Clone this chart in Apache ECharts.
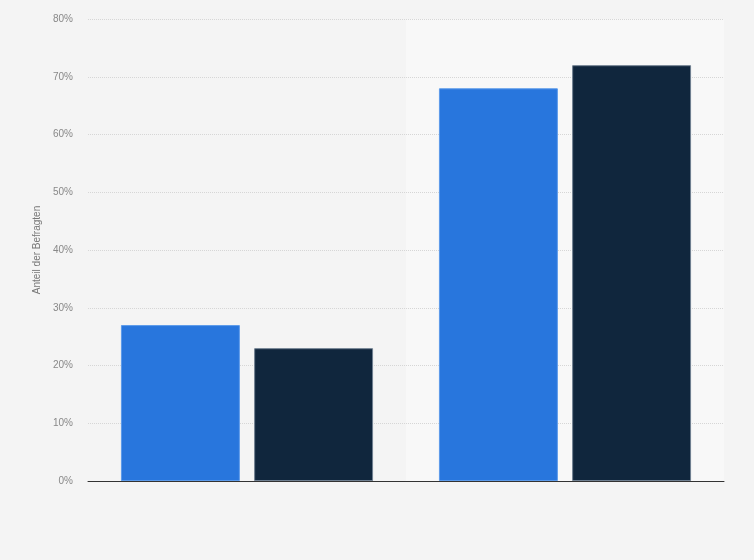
<!DOCTYPE html>
<html>
<head>
<meta charset="utf-8">
<script src="https://cdn.jsdelivr.net/npm/echarts@6/dist/echarts.min.js"></script>
<style>
  html, body { margin: 0; padding: 0; background: #f4f4f4; }
  #chart { width: 754px; height: 560px; }
</style>
</head>
<body>
<div id="chart"></div>
<script>
var categories = ["", ""];
var seriesA = [27, 68];
var seriesB = [23, 72];
var yTicks = [0, 10, 20, 30, 40, 50, 60, 70, 80];

(function () {
  var myChart = echarts.init(document.getElementById("chart"));

  var option = {
    backgroundColor: "#f4f4f4",
    animation: false,
    grid: {
      left: 88,
      right: 30,
      top: 19,
      bottom: 79,
      containLabel: false
    },
    xAxis: [
      {
        // nur für die helle Fläche hinter der zweiten Gruppe
        type: "category",
        data: categories,
        z: 1,
        axisTick: { show: false },
        axisLabel: { show: false },
        axisLine: { show: false },
        splitArea: {
          show: true,
          areaStyle: { color: ["rgba(0,0,0,0)", "#f8f8f8"] }
        }
      },
      {
        type: "category",
        data: categories,
        position: "bottom",
        z: 5,
        axisTick: { show: false },
        axisLabel: { show: false },
        axisLine: { onZero: false, lineStyle: { color: "#333", width: 1 } }
      }
    ],
    yAxis: {
      type: "value",
      z: 2,
      min: yTicks[0],
      max: yTicks[yTicks.length - 1],
      interval: 10,
      name: "Anteil der Befragten",
      nameLocation: "middle",
      nameGap: 45,
      nameTextStyle: { color: "#777", fontSize: 10, fontFamily: "Liberation Sans" },
      axisLine: { show: false },
      axisTick: { show: false },
      axisLabel: {
        color: "#888",
        fontSize: 10,
        fontFamily: "Liberation Sans",
        margin: 15,
        padding: [3, 0, 0, 0],
        formatter: "{value}%"
      },
      splitLine: {
        showMinLine: false,
        lineStyle: { color: "#d6d6d6", type: "dotted", width: 1 }
      }
    },
    series: [
      {
        type: "bar",
        z: 3,
        data: seriesA,
        barWidth: "37.4%",
        barGap: "12%",
        itemStyle: { color: "#2876dd", borderColor: "#5b9aea", borderWidth: 1 }
      },
      {
        type: "bar",
        z: 3,
        data: seriesB,
        barWidth: "37.4%",
        itemStyle: { color: "#10263d", borderColor: "#6f7f90", borderWidth: 1 }
      }
    ]
  };

  myChart.setOption(option);
})();
</script>
</body>
</html>
